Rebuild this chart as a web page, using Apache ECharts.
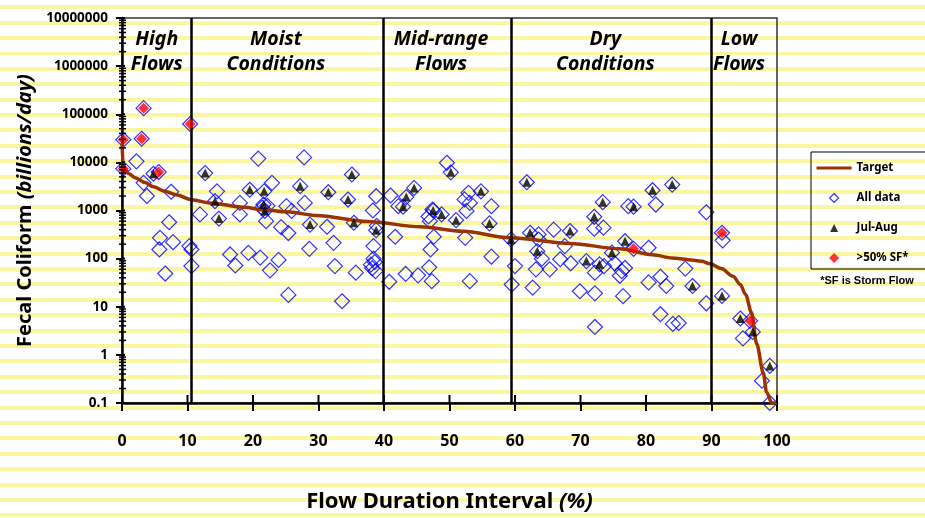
<!DOCTYPE html>
<html><head><meta charset="utf-8">
<script src="https://cdn.jsdelivr.net/npm/echarts@6/dist/echarts.min.js"></script>
<style>
html,body{margin:0;padding:0;}
body{width:925px;height:518px;overflow:hidden;background:repeating-linear-gradient(to bottom,#fff 0px,#fff 5.3px,#fbf7a0 5.3px,#fbf7a0 9.3px,#fff 9.3px,#fff 15.4px);}
#chart{width:925px;height:518px;}
</style></head><body><div id="chart"></div>
<script>
// ---- data ----
const xTicks = [0,10,20,30,40,50,60,70,80,90,100];
const yTickLabels = ['0.1','1','10','100','1000','10000','100000','1000000','10000000'];
const regionNames = [['High','Flows'],['Moist','Conditions'],['Mid-range','Flows'],['Dry','Conditions'],['Low','Flows']];
const regionDividers = [10.5, 39.9, 59.4, 89.9];

const target = [[0,25000],[0.2,7800],[1,5900],[2,4800],[3.5,3800],[4.8,3100],[6.5,2500],[8.4,2100],[10.4,1700],[13.4,1440],[18.5,1170],[22,1020],[25.1,940],[29.7,790],[37.5,590],[45.5,460],[52,370],[59.2,272],[68.4,207],[76,160],[81,120],[84,103],[86.5,95],[88.5,88],[89.8,78],[91.5,62],[93.3,43],[94.4,29],[95.2,18],[96.1,7.6],[96.9,1.7],[97.9,0.43],[98.4,0.17],[99.2,0.1],[100,0.1]];

const hollowOnly = [
 [2.2,10500],[3.3,3750],[3.8,2000],[7.5,2450],[7.2,570],[5.8,270],[7.8,220],[5.7,155],[10.3,182],[10.6,155],[6.6,49],[10.6,70],
 [20.8,12000],[27.8,12700],[14.5,2500],[11.9,830],[18.0,1440],[18.0,830],[22.9,3750],[22.0,600],[21.4,1150],[22.2,1250],[25.1,1230],[25.9,980],[27.9,1440],[24.3,450],[25.4,340],[31.3,460],[38.8,1980],[38.3,1000],[38.9,480],[32.3,213],[28.6,160],[38.4,182],[16.5,122],[17.3,72],[19.3,132],[21.1,105],[22.6,57],[23.9,94],[25.4,17.6],[32.5,70],[35.7,51],[33.6,13],[38.4,100],[38.2,63],[38.7,55],[38.0,75],[38.6,85],
 [49.6,9800],[41.0,2050],[42.2,1230],[41.7,285],[40.8,33],[43.3,48],[45.2,45],[47.3,34],[46.9,66],[47.1,155],[47.6,285],[47.4,1050],[47.0,600],[46.8,750],[52.9,2330],[52.3,1700],[53.1,1440],[52.6,980],[56.4,1230],[52.4,270],[56.4,110],[53.1,34],
 [60.0,70],[59.5,29],[62.7,25],[63.6,318],[63.6,250],[64.1,100],[63.2,60],[65.3,60],[65.9,400],[67.6,182],[66.9,97],[68.5,80],[72.2,51],[69.9,21],[72.2,19],[72.2,3.8],[72.1,420],[73.5,440],[73.6,70],[75.2,80],[76.3,55],[76.0,44],[76.5,16.6],[76.8,64],[77.3,1230],[81.5,1330],[80.4,168],[80.4,32],[82.2,42],[83.1,27],[82.2,7],[84.1,4.4],[85.0,4.6],[86.0,62],[89.2,920],[89.2,11.8],
 [91.7,240],[94.8,2.2],[97.7,0.29],[98.9,0.1]
];
const julAug = [
 [4.8,5800],[12.7,6000],[35.1,5600],[14.2,1560],[14.8,680],[19.5,2700],[21.7,2500],[21.6,1330],[21.8,980],[27.2,3200],[28.7,510],[31.5,2400],[34.5,1690],[35.4,556],[38.8,390],
 [44.6,2950],[43.4,1900],[42.9,1200],[50.2,6200],[47.5,1000],[48.8,830],[51.0,630],[54.8,2500],[56.1,540],[59.4,250],
 [61.8,3860],[62.3,345],[63.4,143],[68.4,375],[70.9,89],[72.9,76],[72.1,740],[73.4,1490],[74.8,133],[76.8,230],[78.1,1200],[81.0,2640],[84.0,3460],[87.1,27],
 [91.6,16.8],[94.4,5.7],[96.3,3.0],[98.9,0.59]
];
const stormFlow = [[0.2,29500],[3.0,31000],[3.3,134000],[0.2,7400],[5.6,6300],[10.4,62700],[78.1,160],[91.6,345],[95.9,5.1]];
const allData = hollowOnly.concat(julAug, stormFlow);

// ---- layout / style ----
const regionCenters = [5.3, 23.5, 48.7, 73.8, 94.2];
const FONT = '"Noto Sans", "DejaVu Sans", sans-serif';
// legend icons: 35x10 box kept by invisible corner moves, shape centred
const ICON_LINE = 'path://M0,0 M35,10 M0,3.5 L35,3.5 L35,6.5 L0,6.5 Z';
const ICON_DIAMOND = 'path://M0,0 M35,10 M17.5,0.5 L22,5 L17.5,9.5 L13,5 Z';
const ICON_TRI = 'path://M0,0 M35,10 M17.5,1 L21.5,9 L13.5,9 Z';
const ICON_RED = 'path://M0,0 M35,10 M17.5,0 L22.5,5 L17.5,10 L12.5,5 Z';

const chart = echarts.init(document.getElementById('chart'), null, {renderer:'canvas'});
chart.setOption({
  animation:false,
  backgroundColor:'transparent',
  textStyle:{fontFamily:FONT},
  grid:{left:122, right:148, top:18, bottom:114, show:true, borderColor:'#333', borderWidth:1.5, backgroundColor:'transparent'},
  xAxis:{type:'value', min:0, max:100, interval:10,
    name:'{a|Flow Duration Interval }{b|(%)}', nameLocation:'middle', nameGap:88,
    nameTextStyle:{rich:{a:{fontFamily:FONT,fontWeight:'bold',fontSize:22,color:'#000'},b:{fontFamily:FONT,fontWeight:'bold',fontStyle:'italic',fontSize:22,color:'#000'}}},
    axisLine:{lineStyle:{color:'#000',width:2.5}},
    axisTick:{show:true,length:8,lineStyle:{color:'#000',width:2}},
    axisLabel:{margin:30,color:'#000',fontWeight:'bold',fontSize:16,fontFamily:FONT},
    splitLine:{show:false}},
  yAxis:{type:'log', logBase:10, min:0.1, max:10000000, splitNumber:8,
    name:'{a|Fecal Coliform }{b|(billions/day)}', nameLocation:'middle', nameGap:87,
    nameTextStyle:{rich:{a:{fontFamily:FONT,fontWeight:'bold',fontSize:20,color:'#000'},b:{fontFamily:FONT,fontWeight:'bold',fontStyle:'italic',fontSize:20,color:'#000'}}},
    axisLine:{show:true,lineStyle:{color:'#000',width:2.5}},
    axisTick:{show:true,length:6,lineStyle:{color:'#000',width:2}},
    axisLabel:{margin:14,color:'#000',fontWeight:'bold',fontSize:13.5,fontFamily:FONT,
      formatter:function(v){return yTickLabels[Math.round(Math.log10(v))+1];}},
    splitLine:{show:false}},
  legend:{orient:'vertical', left:811, top:152, padding:[10,17,5,5], itemGap:18, itemWidth:35, itemHeight:10,
    borderColor:'#000', borderWidth:1, backgroundColor:'transparent',
    textStyle:{fontFamily:FONT,fontWeight:'bold',fontSize:11.5,color:'#000'},
    data:[
      {name:'Target', icon:ICON_LINE, itemStyle:{color:'#993300', borderWidth:0}},
      {name:'All data', icon:ICON_DIAMOND, itemStyle:{color:'rgba(0,0,0,0)', borderColor:'#0000ff', borderWidth:1.2}},
      {name:'Jul-Aug', icon:ICON_TRI, itemStyle:{color:'#000'}},
      {name:'>50% SF*', icon:ICON_RED, itemStyle:{color:'#ff0000'}}
    ]},
  series:[
    {name:'All data', type:'scatter', data:allData, symbol:'diamond', symbolSize:15, z:2,
      itemStyle:{color:'rgba(0,0,0,0)', borderColor:'#0000ff', borderWidth:1.2}, emphasis:{disabled:true}, silent:true},
    {name:'Target', type:'line', data:target, symbol:'none', smooth:0.3, smoothMonotone:'x', z:3,
      lineStyle:{color:'#993300', width:3.5}, itemStyle:{color:'#993300'}, silent:true,
      markLine:{silent:true, symbol:['none','none'], label:{show:false},
        lineStyle:{color:'#000', width:2.5, type:'solid'},
        data:regionDividers.map(v=>({xAxis:v}))}},
    {name:'Jul-Aug', type:'scatter', data:julAug, symbol:'triangle', symbolSize:[9,9], z:4,
      itemStyle:{color:'#000'}, emphasis:{disabled:true}, silent:true},
    {name:'>50% SF*', type:'scatter', data:stormFlow, symbol:'diamond', symbolSize:11, z:5,
      itemStyle:{color:'#ff0000'}, emphasis:{disabled:true}, silent:true}
  ]
});

// decorations derived from the chart's own scales
const g = [];
const x0 = chart.convertToPixel({xAxisIndex:0}, 0);
const yb = chart.convertToPixel({yAxisIndex:0}, 0.1);
for (let d=-1; d<7; d++) {
  for (let k=2; k<=9; k++) {
    const y = chart.convertToPixel({yAxisIndex:0}, k*Math.pow(10,d));
    g.push({type:'line', silent:true, z:10, shape:{x1:x0-3,y1:y,x2:x0+4,y2:y}, style:{stroke:'#000',lineWidth:1.5}});
  }
}
for (let d=-1; d<=7; d++) {
  const y = chart.convertToPixel({yAxisIndex:0}, Math.pow(10,d));
  g.push({type:'line', silent:true, z:10, shape:{x1:x0,y1:y,x2:x0+3,y2:y}, style:{stroke:'#000',lineWidth:2}});
}
xTicks.forEach(v=>{
  const x = chart.convertToPixel({xAxisIndex:0}, v);
  g.push({type:'line', silent:true, z:10, shape:{x1:x,y1:yb-8,x2:x,y2:yb}, style:{stroke:'#000',lineWidth:2}});
});
regionNames.forEach((r,i)=>{
  const x = chart.convertToPixel({xAxisIndex:0}, regionCenters[i]);
  g.push({type:'text', silent:true, z:10, x:x, y:39, style:{text:r[0], align:'center', verticalAlign:'middle', fill:'#000', font:'italic bold 19.5px '+FONT}});
  g.push({type:'text', silent:true, z:10, x:x, y:64, style:{text:r[1], align:'center', verticalAlign:'middle', fill:'#000', font:'italic bold 19.5px '+FONT}});
});
g.push({type:'text', silent:true, z:10, x:867, y:281, style:{text:'*SF is Storm Flow', align:'center', verticalAlign:'middle', fill:'#000', font:'bold 11px "Liberation Sans", Arial, sans-serif'}});
chart.setOption({graphic:g});
</script>
</body></html>
